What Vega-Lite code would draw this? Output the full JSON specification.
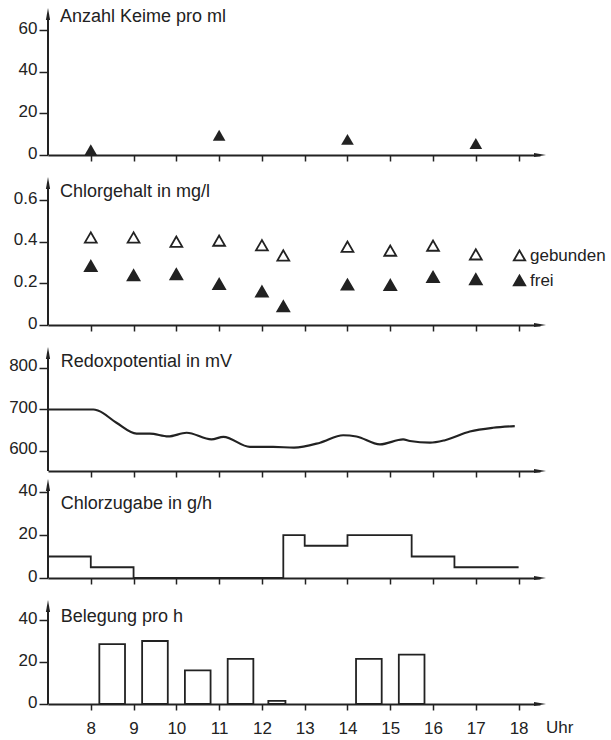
{
  "$schema": "https://vega.github.io/schema/vega-lite/v6.json",
  "background": "white",
  "padding": {"left": 8, "top": 0, "right": 0, "bottom": 0},
  "bounds": "flush",
  "spacing": 0,
  "config": {
    "view": {"stroke": null},
    "font": "Liberation Sans",
    "axis": {"labelFont": "Liberation Sans", "labelColor": "#222", "labelFontSize": 17, "grid": false, "title": null, "tickColor": "#222", "domainColor": "#222"},
    "text": {"font": "Liberation Sans", "fontSize": 18, "color": "#222"}
  },
  "datasets": {
    "keime": [{"t": 8, "v": 2.5}, {"t": 11, "v": 9.5}, {"t": 14, "v": 7.5}, {"t": 17, "v": 5.5}],
    "chlor": [
      {"t": 8, "v": 0.42, "art": "gebunden"}, {"t": 9, "v": 0.42, "art": "gebunden"}, {"t": 10, "v": 0.40, "art": "gebunden"}, {"t": 11, "v": 0.405, "art": "gebunden"}, {"t": 12, "v": 0.383, "art": "gebunden"}, {"t": 12.5, "v": 0.334, "art": "gebunden"}, {"t": 14, "v": 0.376, "art": "gebunden"}, {"t": 15, "v": 0.357, "art": "gebunden"}, {"t": 16, "v": 0.381, "art": "gebunden"}, {"t": 17, "v": 0.339, "art": "gebunden"},
      {"t": 8, "v": 0.283, "art": "frei"}, {"t": 9, "v": 0.239, "art": "frei"}, {"t": 10, "v": 0.244, "art": "frei"}, {"t": 11, "v": 0.197, "art": "frei"}, {"t": 12, "v": 0.161, "art": "frei"}, {"t": 12.5, "v": 0.09, "art": "frei"}, {"t": 14, "v": 0.194, "art": "frei"}, {"t": 15, "v": 0.192, "art": "frei"}, {"t": 16, "v": 0.231, "art": "frei"}, {"t": 17, "v": 0.22, "art": "frei"}
    ],
    "redox": [
      {"t": 7.0, "v": 700}, {"t": 8.06, "v": 700}, {"t": 8.18, "v": 697}, {"t": 8.6, "v": 668}, {"t": 9.07, "v": 642}, {"t": 9.38, "v": 642}, {"t": 9.81, "v": 635}, {"t": 10.24, "v": 644}, {"t": 10.82, "v": 628}, {"t": 11.1, "v": 634}, {"t": 11.72, "v": 610}, {"t": 12.26, "v": 610}, {"t": 12.75, "v": 608}, {"t": 13.36, "v": 620}, {"t": 13.9, "v": 638}, {"t": 14.21, "v": 635}, {"t": 14.76, "v": 616}, {"t": 15.3, "v": 628}, {"t": 15.46, "v": 624}, {"t": 15.93, "v": 620}, {"t": 16.28, "v": 626}, {"t": 16.86, "v": 647}, {"t": 17.4, "v": 656}, {"t": 17.91, "v": 660}
    ],
    "zugabe": [{"t": 7, "v": 10}, {"t": 8, "v": 5}, {"t": 9, "v": 0}, {"t": 12.5, "v": 20}, {"t": 13, "v": 15}, {"t": 14, "v": 20}, {"t": 15.5, "v": 10}, {"t": 16.5, "v": 5}, {"t": 18, "v": 5}],
    "belegung": [{"t": 8.2, "t2": 8.8, "v": 28.5}, {"t": 9.2, "t2": 9.8, "v": 30}, {"t": 10.2, "t2": 10.8, "v": 16}, {"t": 11.2, "t2": 11.8, "v": 21.5}, {"t": 12.15, "t2": 12.55, "v": 1.5}, {"t": 14.2, "t2": 14.8, "v": 21.5}, {"t": 15.2, "t2": 15.8, "v": 23.5}]
  },
  "vconcat": [
    {
      "width": 492, "height": 155,
      "encoding": {
        "x": {"field": "t", "type": "quantitative", "scale": {"domain": [7, 18.5], "nice": false, "zero": false}, "axis": {"values": [8,9,10,11,12,13,14,15,16,17,18], "labels": false, "domainWidth": 2, "tickWidth": 1.5, "tickSize": 6}},
        "y": {"field": "v", "type": "quantitative", "scale": {"domain": [0, 74.4], "nice": false}, "axis": {"values": [0,20,40,60], "domain": false, "tickSize": 9, "tickWidth": 1.5, "labelPadding": 2, "labelOffset": -2}}
      },
      "layer": [
        {"data": {"name": "keime"}, "transform": [{"filter": "datum.t == 8"}], "mark": {"type": "rule", "stroke": "#222", "strokeWidth": 2}, "encoding": {"x": {"datum": 7}, "y": {"datum": 0}, "y2": {"datum": 67.7}}},
        {"data": {"name": "keime"}, "transform": [{"filter": "datum.t == 8"}], "mark": {"type": "point", "shape": "M0,-1L0.35,1L-0.35,1Z", "filled": true, "size": 144, "color": "#222", "opacity": 1}, "encoding": {"x": {"datum": 7}, "y": {"datum": 67.7}}},
        {"data": {"name": "keime"}, "transform": [{"filter": "datum.t == 8"}], "mark": {"type": "point", "shape": "M1,0L-1,-0.35L-1,0.35Z", "filled": true, "size": 144, "color": "#222", "opacity": 1}, "encoding": {"x": {"datum": 18.5}, "y": {"datum": 0}}},
        {"data": {"name": "keime"}, "transform": [{"filter": "datum.t == 8"}], "mark": {"type": "text", "text": "Anzahl Keime pro ml", "align": "left", "baseline": "middle"}, "encoding": {"x": {"datum": 7.28}, "y": {"datum": 66.2}}},
        {"data": {"name": "keime"}, "mark": {"type": "point", "shape": "triangle-up", "filled": true, "size": 160, "color": "#222", "opacity": 1}}
      ]
    },
    {
      "width": 492, "height": 170,
      "encoding": {
        "x": {"field": "t", "type": "quantitative", "scale": {"domain": [7, 18.5], "nice": false, "zero": false}, "axis": {"values": [8,9,10,11,12,13,14,15,16,17,18], "labels": false, "domainWidth": 2, "tickWidth": 1.5, "tickSize": 6}},
        "y": {"field": "v", "type": "quantitative", "scale": {"domain": [0, 0.816], "nice": false}, "axis": {"values": [0,0.2,0.4,0.6], "format": "~g", "domain": false, "tickSize": 9, "tickWidth": 1.5, "labelPadding": 2, "labelOffset": -2}}
      },
      "layer": [
        {"data": {"name": "chlor"}, "transform": [{"filter": "datum.t == 8 && datum.art == 'frei'"}], "mark": {"type": "rule", "stroke": "#222", "strokeWidth": 2}, "encoding": {"x": {"datum": 7}, "y": {"datum": 0}, "y2": {"datum": 0.682}}},
        {"data": {"name": "chlor"}, "transform": [{"filter": "datum.t == 8 && datum.art == 'frei'"}], "mark": {"type": "point", "shape": "M0,-1L0.35,1L-0.35,1Z", "filled": true, "size": 144, "color": "#222", "opacity": 1}, "encoding": {"x": {"datum": 7}, "y": {"datum": 0.682}}},
        {"data": {"name": "chlor"}, "transform": [{"filter": "datum.t == 8 && datum.art == 'frei'"}], "mark": {"type": "point", "shape": "M1,0L-1,-0.35L-1,0.35Z", "filled": true, "size": 144, "color": "#222", "opacity": 1}, "encoding": {"x": {"datum": 18.5}, "y": {"datum": 0}}},
        {"data": {"name": "chlor"}, "transform": [{"filter": "datum.t == 8 && datum.art == 'frei'"}], "mark": {"type": "text", "text": "Chlorgehalt in mg/l", "align": "left", "baseline": "middle"}, "encoding": {"x": {"datum": 7.28}, "y": {"datum": 0.639}}},
        {"data": {"name": "chlor"}, "mark": {"type": "point", "shape": "triangle-up", "filled": true, "size": 140, "stroke": "#222", "strokeWidth": 1.8, "opacity": 1},
         "encoding": {"fill": {"field": "art", "type": "nominal", "scale": {"domain": ["gebunden", "frei"], "range": ["white", "#222"]},
           "legend": {"orient": "none", "legendX": 463, "legendY": 247, "title": null, "padding": 0, "symbolType": "triangle-up", "symbolSize": 130, "symbolStrokeColor": "#222", "symbolStrokeWidth": 1.8, "labelFontSize": 17, "labelFont": "Liberation Sans", "labelColor": "#222", "rowPadding": 6, "labelOffset": 2}}}}
      ]
    },
    {
      "width": 492, "height": 146,
      "encoding": {
        "x": {"field": "t", "type": "quantitative", "scale": {"domain": [7, 18.5], "nice": false, "zero": false}, "axis": {"values": [8,9,10,11,12,13,14,15,16,17,18], "labels": false, "domainWidth": 2, "tickWidth": 1.5, "tickSize": 6}},
        "y": {"field": "v", "type": "quantitative", "scale": {"domain": [551.8, 903.6], "nice": false, "zero": false}, "axis": {"values": [600,700,800], "domain": false, "tickSize": 9, "tickWidth": 1.5, "labelPadding": 2, "labelOffset": -2}}
      },
      "layer": [
        {"data": {"name": "redox"}, "transform": [{"filter": "datum.t == 7"}], "mark": {"type": "rule", "stroke": "#222", "strokeWidth": 2}, "encoding": {"x": {"datum": 7}, "y": {"datum": 551.8}, "y2": {"datum": 836}}},
        {"data": {"name": "redox"}, "transform": [{"filter": "datum.t == 7"}], "mark": {"type": "point", "shape": "M0,-1L0.35,1L-0.35,1Z", "filled": true, "size": 144, "color": "#222", "opacity": 1}, "encoding": {"x": {"datum": 7}, "y": {"datum": 836}}},
        {"data": {"name": "redox"}, "transform": [{"filter": "datum.t == 7"}], "mark": {"type": "point", "shape": "M1,0L-1,-0.35L-1,0.35Z", "filled": true, "size": 144, "color": "#222", "opacity": 1}, "encoding": {"x": {"datum": 18.5}, "y": {"datum": 551.8}}},
        {"data": {"name": "redox"}, "transform": [{"filter": "datum.t == 7"}], "mark": {"type": "text", "text": "Redoxpotential in mV", "align": "left", "baseline": "middle"}, "encoding": {"x": {"datum": 7.3}, "y": {"datum": 814.5}}},
        {"data": {"name": "redox"}, "mark": {"type": "line", "interpolate": "monotone", "stroke": "#222", "strokeWidth": 2.2}}
      ]
    },
    {
      "width": 492, "height": 107,
      "encoding": {
        "x": {"field": "t", "type": "quantitative", "scale": {"domain": [7, 18.5], "nice": false, "zero": false}, "axis": {"values": [8,9,10,11,12,13,14,15,16,17,18], "labels": false, "domainWidth": 2, "tickWidth": 1.5, "tickSize": 6}},
        "y": {"field": "v", "type": "quantitative", "scale": {"domain": [0, 49.8], "nice": false}, "axis": {"values": [0,20,40], "domain": false, "tickSize": 9, "tickWidth": 1.5, "labelPadding": 2, "labelOffset": -2}}
      },
      "layer": [
        {"data": {"name": "zugabe"}, "transform": [{"filter": "datum.t == 7"}], "mark": {"type": "rule", "stroke": "#222", "strokeWidth": 2}, "encoding": {"x": {"datum": 7}, "y": {"datum": 0}, "y2": {"datum": 43.3}}},
        {"data": {"name": "zugabe"}, "transform": [{"filter": "datum.t == 7"}], "mark": {"type": "point", "shape": "M0,-1L0.35,1L-0.35,1Z", "filled": true, "size": 144, "color": "#222", "opacity": 1}, "encoding": {"x": {"datum": 7}, "y": {"datum": 43.3}}},
        {"data": {"name": "zugabe"}, "transform": [{"filter": "datum.t == 7"}], "mark": {"type": "point", "shape": "M1,0L-1,-0.35L-1,0.35Z", "filled": true, "size": 144, "color": "#222", "opacity": 1}, "encoding": {"x": {"datum": 18.5}, "y": {"datum": 0}}},
        {"data": {"name": "zugabe"}, "transform": [{"filter": "datum.t == 7"}], "mark": {"type": "text", "text": "Chlorzugabe in g/h", "align": "left", "baseline": "middle"}, "encoding": {"x": {"datum": 7.3}, "y": {"datum": 34.4}}},
        {"data": {"name": "zugabe"}, "mark": {"type": "line", "interpolate": "step-after", "stroke": "#222", "strokeWidth": 1.8}}
      ]
    },
    {
      "width": 492, "height": 126,
      "encoding": {
        "x": {"field": "t", "type": "quantitative", "scale": {"domain": [7, 18.5], "nice": false, "zero": false}, "axis": {"values": [8,9,10,11,12,13,14,15,16,17,18], "labels": true, "labelPadding": 10, "labelFontSize": 17, "domainWidth": 2, "tickWidth": 1.5, "tickSize": 6}},
        "y": {"field": "v", "type": "quantitative", "scale": {"domain": [0, 60], "nice": false}, "axis": {"values": [0,20,40], "domain": false, "tickSize": 9, "tickWidth": 1.5, "labelPadding": 2, "labelOffset": -2}}
      },
      "layer": [
        {"data": {"name": "belegung"}, "transform": [{"filter": "datum.t == 8.2"}], "mark": {"type": "rule", "stroke": "#222", "strokeWidth": 2}, "encoding": {"x": {"datum": 7}, "y": {"datum": 0}, "y2": {"datum": 46.7}}},
        {"data": {"name": "belegung"}, "transform": [{"filter": "datum.t == 8.2"}], "mark": {"type": "point", "shape": "M0,-1L0.35,1L-0.35,1Z", "filled": true, "size": 144, "color": "#222", "opacity": 1}, "encoding": {"x": {"datum": 7}, "y": {"datum": 46.7}}},
        {"data": {"name": "belegung"}, "transform": [{"filter": "datum.t == 8.2"}], "mark": {"type": "point", "shape": "M1,0L-1,-0.35L-1,0.35Z", "filled": true, "size": 144, "color": "#222", "opacity": 1}, "encoding": {"x": {"datum": 18.5}, "y": {"datum": 0}}},
        {"data": {"name": "belegung"}, "transform": [{"filter": "datum.t == 8.2"}], "mark": {"type": "text", "text": "Belegung pro h", "align": "left", "baseline": "middle"}, "encoding": {"x": {"datum": 7.3}, "y": {"datum": 41.4}}},
        {"data": {"name": "belegung"}, "transform": [{"filter": "datum.t == 8.2"}], "mark": {"type": "text", "text": "Uhr", "align": "left", "baseline": "middle", "fontSize": 17, "dx": 6}, "encoding": {"x": {"datum": 18.5}, "y": {"datum": -11.5}}},
        {"data": {"name": "belegung"}, "mark": {"type": "rect", "fill": "white", "stroke": "#222", "strokeWidth": 1.8}, "encoding": {"x2": {"field": "t2"}, "y2": {"datum": 0}}}
      ]
    }
  ]
}
